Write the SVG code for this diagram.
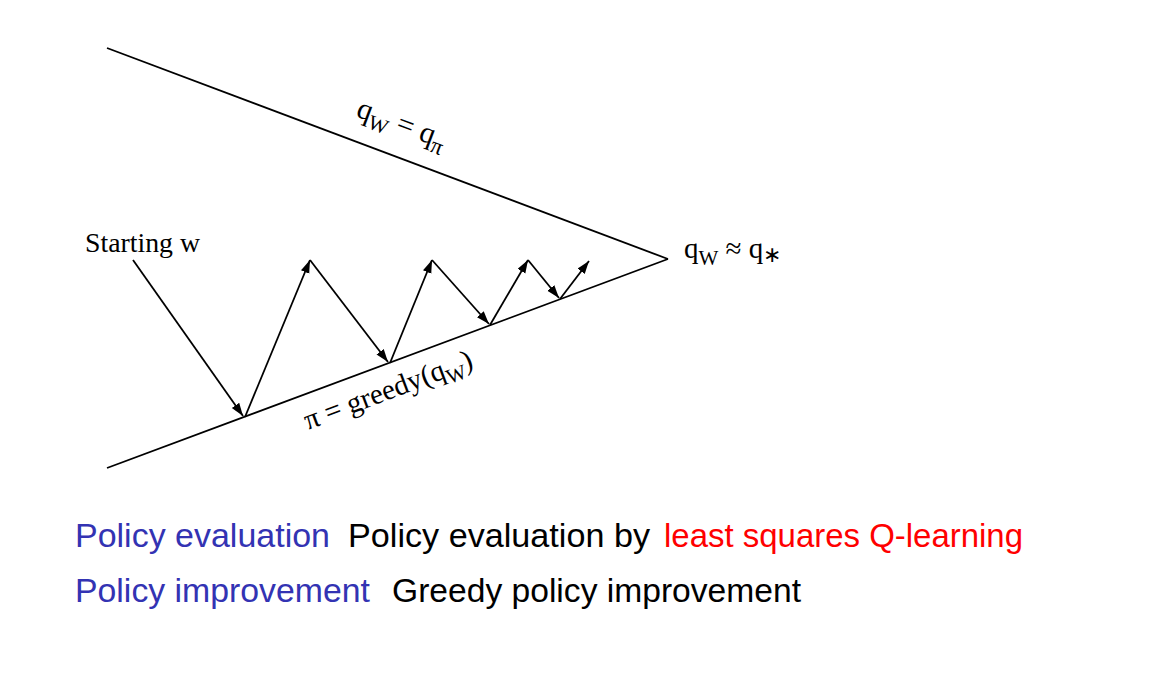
<svg xmlns="http://www.w3.org/2000/svg" width="1160" height="676" viewBox="0 0 1160 676">
<style>
.ln{stroke:#000;stroke-width:1.8;fill:none}
.ar{stroke:#000;stroke-width:1.8;fill:none;marker-end:url(#ah)}
.ser{font-family:"Liberation Serif","Times New Roman",serif;fill:#000}
.sans{font-family:"Liberation Sans",Arial,sans-serif;font-size:33px}
.blue{fill:#3333B3}
.blk{fill:#000}
.red{fill:#FF0000}
</style>
<defs>
<marker id="ah" markerUnits="userSpaceOnUse" markerWidth="16" markerHeight="12" refX="13" refY="4.5" orient="auto">
<path d="M0,0 L13,4.5 L0,9 Z" fill="#000"/>
</marker>
</defs>
<rect width="1160" height="676" fill="#fff"/>
<g id="bounds">
<line class="ln" x1="107" y1="48" x2="668" y2="259"/>
<line class="ln" x1="107" y1="468" x2="668" y2="259"/>
</g>
<g id="connectors">
<line class="ar" x1="133" y1="260" x2="243" y2="416"/>
<line class="ar" x1="245" y1="417" x2="310" y2="260"/>
<line class="ar" x1="310" y1="260" x2="388" y2="362"/>
<line class="ar" x1="390" y1="363" x2="432" y2="260"/>
<line class="ar" x1="432" y1="260" x2="489" y2="324"/>
<line class="ar" x1="490" y1="325" x2="528" y2="260"/>
<line class="ar" x1="528" y1="260" x2="559" y2="298"/>
<line class="ar" x1="560" y1="299" x2="589" y2="261"/>
</g>
<g id="start">
<text class="ser" x="85" y="252" font-size="27" textLength="115" lengthAdjust="spacingAndGlyphs">Starting w</text>
</g>
<g id="top-label">
<text class="ser" font-size="30" transform="translate(355,116) rotate(20.6)">q<tspan font-size="21" dy="7">W</tspan><tspan dy="-7"> = q</tspan><tspan font-size="23" dy="7">π</tspan></text>
</g>
<g id="optimum">
<text class="ser" x="684" y="258" font-size="29">q<tspan font-size="21" dy="7">W</tspan><tspan dy="-7"> ≈ q</tspan><tspan font-size="22" dy="4">∗</tspan></text>
</g>
<g id="bottom-label">
<text class="ser" font-size="29" transform="translate(308,430) rotate(-20.6)">π = greedy(q<tspan font-size="21" dy="7">W</tspan><tspan dy="-7">)</tspan></text>
</g>
<g id="legend">
<text class="sans blue" x="75" y="547" textLength="255" lengthAdjust="spacingAndGlyphs">Policy evaluation</text>
<text class="sans blk" x="348" y="547" textLength="302" lengthAdjust="spacingAndGlyphs">Policy evaluation by</text>
<text class="sans red" x="664" y="547" textLength="359" lengthAdjust="spacingAndGlyphs">least squares Q-learning</text>
<text class="sans blue" x="75" y="602" textLength="295" lengthAdjust="spacingAndGlyphs">Policy improvement</text>
<text class="sans blk" x="392" y="602" textLength="409" lengthAdjust="spacingAndGlyphs">Greedy policy improvement</text>
</g>
</svg>
